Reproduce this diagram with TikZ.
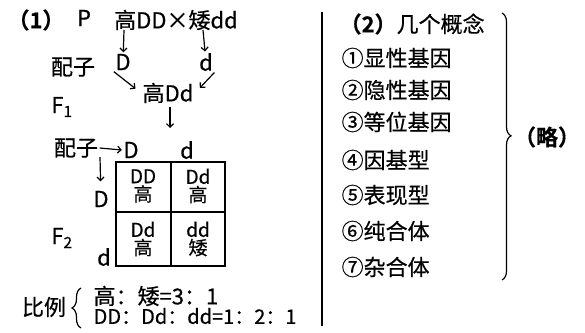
\documentclass[tikz,border=0pt]{standalone}
\usepackage{fontspec}
\setmainfont{Noto Sans CJK SC}[FakeBold=0.5,BoldFont={Noto Sans CJK SC Bold}]
\usetikzlibrary{arrows.meta,decorations.pathreplacing}

\begin{document}
\begin{tikzpicture}
  [x=1pt,y=-1pt,line width=1.2pt,>={Straight Barb[length=3.5pt,width=7pt]},
   every node/.style={inner sep=1pt,font=\fontsize{22}{26}\selectfont},
   cell/.style={align=center,font=\fontsize{19}{18}\selectfont},
   item/.style={anchor=west}]
  \useasboundingbox (0,0) rectangle (585,332);

  % (1) P and F1
  \node (n1) at (36,20) {\textbf{（1）}};
  \node (P) at (84,18) {P};
  \node (cross) at (176,20) {高DD×矮dd};
  \coordinate (ca) at (124,30);
  \coordinate (cb) at (203,30);
  \node (g1) at (73,67) {配子};
  \node (gD) at (123,62) {D};
  \node (gd) at (206,62) {d};
  \node (F1) at (62,107) {F\textsubscript{1}};
  \node (hDd) at (168,93) {高Dd};
  \coordinate (f1) at (170,107);
  \coordinate (f1e) at (170,128);

  \draw[->] (ca) -- (gD);
  \draw[->] (cb) -- (gd);
  \draw[->,shorten >=7pt] (gD.south west) -- (hDd.west);
  \draw[->,shorten >=7pt] (gd.south east) -- (hDd.east);
  \draw[->] (f1) -- (f1e);

  % F2
  \node (g2) at (76,148) {配子};
  \node (g2D) at (131,150) {D};
  \node (g2d) at (187,150) {d};
  \coordinate (g2s) at (100,157);
  \node (rD) at (101,199) {D};
  \node (rd) at (104,257) {d};
  \node (F2) at (62,238) {F\textsubscript{2}};

  \draw[->] (g2.east) -- (g2D.west);
  \draw[->,shorten >=8pt] (g2s) -- (rD);

  % tabla
  \draw (116,162) rectangle (225,266);
  \draw (171,162) -- (171,266);
  \draw (116,212) -- (225,212);
  \node[cell] (c11) at (143,186) {DD\\高};
  \node[cell] (c12) at (198,186) {Dd\\高};
  \node[cell] (c21) at (143,239) {Dd\\高};
  \node[cell] (c22) at (198,239) {dd\\矮};

  % proporciones
  \node (ratio) at (44,307) {比例};
  \draw[decorate,decoration={brace,amplitude=9pt}] (81,328) -- (81,288);
  \node[item] (r1) at (92,296) {高：矮=3：1};
  \node[item,font=\fontsize{20}{22}\selectfont] (r2) at (92,316) {DD：Dd：dd=1：2：1};

  % separador
  \draw (322,12) -- (322,326);

  % (2) conceptos
  \node[item] (n2) at (338,24) {\textbf{（2）}几个概念};
  \node[item] (k1) at (340,58) {①显性基因};
  \node[item] (k2) at (340,90) {②隐性基因};
  \node[item] (k3) at (340,122) {③等位基因};
  \node[item] (k4) at (340,160) {④因基型};
  \node[item] (k5) at (340,195) {⑤表现型};
  \node[item] (k6) at (340,231) {⑥纯合体};
  \node[item] (k7) at (340,267) {⑦杂合体};
  \draw[decorate,decoration={brace,amplitude=9pt,aspect=0.46}] (502,13) -- (502,280);
  \node (lue) at (547,137) {\textbf{（略）}};
\end{tikzpicture}
\end{document}
